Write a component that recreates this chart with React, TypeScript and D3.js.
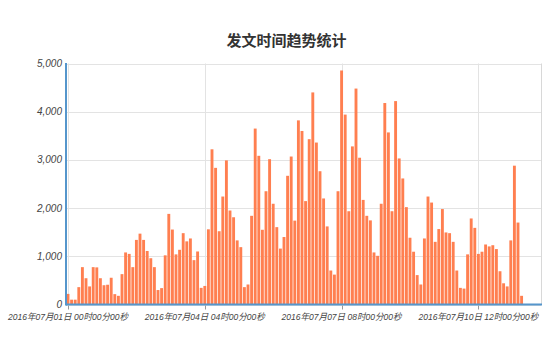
import React from "react";
import * as d3 from "d3";

// Post counts per 2-hour bin, starting 2016-07-01 00:00
const startTime = "2016-07-01T00:00:00Z";
const binHours = 2;
const counts: number[] = [
  220, 100, 100, 360, 775, 545, 375, 775, 770, 545,
  400, 410, 555, 215, 180, 630, 1080, 1050, 775, 1340,
  1470, 1340, 1110, 960, 775, 300, 340, 1020, 1880, 1555,
  1040, 1135, 1480, 1310, 1370, 920, 1100, 345, 385,
  1560, 3220, 2835, 1520, 2240, 2990, 1950, 1810, 1330, 1190,
  360, 415, 1840, 3650, 3085, 1550, 2350, 3015, 2090, 1605,
  1160, 1400, 2670, 3070, 1740, 3820, 3600, 2145, 3430, 4400,
  3360, 2765, 2200, 1620, 705, 620, 2350, 4855, 3940,
  1935, 3280, 4480, 3045, 2170, 1840, 1745, 1080, 1010, 2090,
  4180, 3570, 1935, 4220, 3030, 2615, 2020, 1385, 1095, 610,
  415, 1370, 2240, 2115,
  1300, 1565, 1980, 1495, 1480, 1300, 705, 345, 330, 1040,
  1785, 1590, 1050, 1095, 1245, 1205, 1230, 1150, 690, 440,
  375, 1330, 2880, 1700, 180,
];

// x-axis ticks (hours since start) and their labels
const xTickHours: number[] = [0, 76, 152, 228];
const xTickLabels: string[] = [
  "2016年07月01日 00时00分00秒",
  "2016年07月04日 04时00分00秒",
  "2016年07月07日 08时00分00秒",
  "2016年07月10日 12时00分00秒",
];
const yTicks: number[] = [0, 1000, 2000, 3000, 4000, 5000];
const title = "发文时间趋势统计";

const W = 550;
const H = 355;
const left = 66;
const right = 541;
const top = 63.5;
const bottom = 304.5;

export default function App() {
  void startTime;
  const x = d3.scaleLinear().domain([-1.11, 262.78]).range([left, right]);
  const y = d3.scaleLinear().domain([0, 5000]).range([bottom, top]);
  const step = x(binHours) - x(0);
  const bw = step * 0.8;
  const fmt = d3.format(",");
  const font = "'Liberation Sans', 'Noto Sans CJK SC', sans-serif";

  return (
    <svg
      width={W}
      height={H}
      style={{ position: "absolute", left: 0, top: 0, background: "#fff" }}
    >
      <text
        x={286.5}
        y={45.5}
        textAnchor="middle"
        fontFamily="'Noto Sans CJK SC', sans-serif"
        fontWeight="bold"
        fontSize={15}
        fill="#333"
      >
        {title}
      </text>
      {yTicks.map((t) => (
        <line
          key={"gy" + t}
          x1={left}
          x2={right}
          y1={Math.round(y(t)) + 0.5}
          y2={Math.round(y(t)) + 0.5}
          stroke="#e3e3e3"
        />
      ))}
      {xTickHours.map((h) => (
        <line
          key={"gx" + h}
          x1={Math.round(x(h)) + 0.5}
          x2={Math.round(x(h)) + 0.5}
          y1={top}
          y2={bottom}
          stroke="#e3e3e3"
        />
      ))}
      <line x1={right + 0.5} x2={right + 0.5} y1={top} y2={bottom} stroke="#d8d8d8" />
      {counts.map((v, i) => {
        const cx = x(i * binHours);
        return (
          <rect
            key={i}
            x={cx - bw / 2}
            y={y(v)}
            width={bw}
            height={y(0) - y(v)}
            fill="#ff7f50"
          />
        );
      })}
      <line x1={left} x2={right + 1} y1={bottom} y2={bottom} stroke="#5596cc" strokeWidth={2} />
      <line x1={left} x2={left} y1={top - 0.5} y2={bottom + 1} stroke="#5596cc" strokeWidth={2} />
      {xTickHours.map((h) => (
        <line
          key={"tk" + h}
          x1={Math.round(x(h)) + 0.5}
          x2={Math.round(x(h)) + 0.5}
          y1={bottom + 1}
          y2={bottom + 5}
          stroke="#999"
        />
      ))}
      {yTicks.map((t) => (
        <text
          key={"yl" + t}
          x={62}
          y={y(t) + 3.5}
          textAnchor="end"
          fontFamily={font}
          fontStyle="italic"
          fontSize={10}
          fill="#444"
        >
          {fmt(t)}
        </text>
      ))}
      {xTickHours.map((h, i) => (
        <text
          key={"xl" + h}
          x={x(h)}
          y={319.5}
          textAnchor="middle"
          fontFamily={font}
          fontStyle="italic"
          fontSize={9.2}
          textLength={120}
          lengthAdjust="spacingAndGlyphs"
          fill="#444"
        >
          {xTickLabels[i]}
        </text>
      ))}
    </svg>
  );
}
